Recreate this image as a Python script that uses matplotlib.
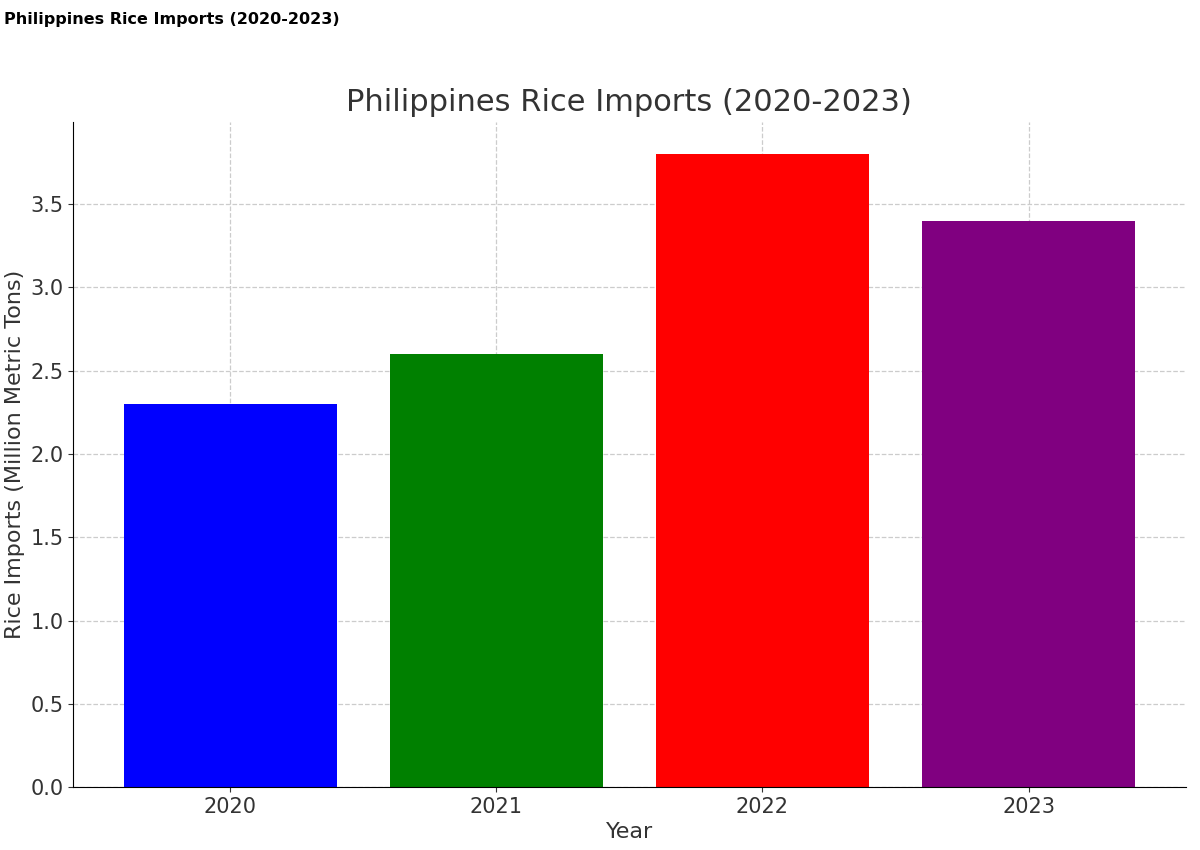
import matplotlib
matplotlib.use("Agg")
import matplotlib.pyplot as plt

years = ["2020", "2021", "2022", "2023"]
imports = [2.3, 2.6, 3.8, 3.4]
colors = ["blue", "green", "red", "purple"]

fig = plt.figure(figsize=(12, 8.5), dpi=100)
ax = fig.add_axes([0.061, 0.074, 0.927, 0.782])
ax.bar(years, imports, color=colors, zorder=2)
ax.grid(True, linestyle="--", color="#cccccc", linewidth=0.9, zorder=0)
ax.set_title("Philippines Rice Imports (2020-2023)", fontsize=22, color="#333333", pad=8)
ax.set_xlabel("Year", fontsize=16, color="#333333", labelpad=4)
ax.set_ylabel("Rice Imports (Million Metric Tons)", fontsize=16, color="#333333")
ax.tick_params(labelsize=15, colors="#333333")
for s in ["top", "right"]:
    ax.spines[s].set_visible(False)
fig.text(0.003, 0.977, "Philippines Rice Imports (2020-2023)", fontsize=11.5,
         fontweight="bold", color="black", va="center")
fig.savefig("out.png")
